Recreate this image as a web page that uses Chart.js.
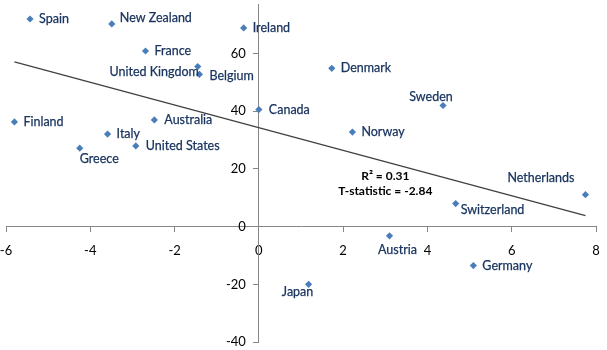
<!DOCTYPE html>
<html>
<head>
<meta charset="utf-8">
<script src="https://cdn.jsdelivr.net/npm/chart.js@4/dist/chart.umd.min.js"></script>
<style>
  html, body { margin: 0; padding: 0; background: #fff; }
  #chart { display: block; }
</style>
</head>
<body>
<canvas id="chart" width="607" height="350"></canvas>
<script>
// Countries with their x / y values
const countries = ['Spain', 'New Zealand', 'Ireland', 'France', 'United Kingdom', 'Belgium',
  'Canada', 'Finland', 'Australia', 'Italy', 'United States', 'Greece', 'Denmark', 'Sweden',
  'Norway', 'Netherlands', 'Switzerland', 'Austria', 'Germany', 'Japan'];
const xValues = [-5.43, -3.49, -0.36, -2.69, -1.45, -1.41, 0.0, -5.80, -2.48, -3.59, -2.92, -4.25,
  1.73, 4.37, 2.22, 7.75, 4.67, 3.10, 5.09, 1.18];
const yValues = [72.0, 70.3, 68.9, 60.9, 55.5, 52.8, 40.6, 36.3, 37.0, 32.1, 28.0, 27.2,
  54.9, 42.0, 32.8, 11.1, 8.0, -3.2, -13.5, -20.0];

// fitted line end points
const trendX = [-5.8, 7.75];
const trendY = [57.1, 3.8];

const xTicks = [-6, -4, -2, 0, 2, 4, 6, 8];
const yTicks = [-40, -20, 0, 20, 40, 60];

const statLines = ['R\u00B2 = 0.31', 'T-statistic = -2.84'];

// where each name sits next to its marker: [dx, dy, align]
const labelOffsets = [
  [9, 0, 'left'], [8, -6, 'left'], [9, 0, 'left'], [9, 0, 'left'], [1, 5, 'right'], [10, 2, 'left'],
  [10, 0, 'left'], [9, 0, 'left'], [10, 0, 'left'], [9, 0, 'left'], [10, 0, 'left'], [0, 11, 'left'],
  [9, 0, 'left'], [-12, -9, 'center'], [9, 0, 'left'], [-11, -17, 'right'], [5, 6, 'left'],
  [8, 14, 'center'], [9, 0, 'left'], [-11, 8, 'center']
];

const FONT = 'Lato, "Open Sans", sans-serif';

const pointLabels = {
  id: 'pointLabels',
  afterDatasetsDraw(chart) {
    const ctx = chart.ctx;
    const xs = chart.scales.x;
    const ys = chart.scales.y;
    const meta = chart.getDatasetMeta(1);
    ctx.save();

    // y tick labels, left of the crossing axis
    ctx.font = '13px ' + FONT;
    ctx.fillStyle = '#000';
    ctx.textAlign = 'right';
    ctx.textBaseline = 'middle';
    const axisX = xs.getPixelForValue(0);
    yTicks.forEach(function(v) {
      ctx.fillText(String(v), axisX - 13, ys.getPixelForValue(v));
    });

    // country names
    ctx.font = '12.5px ' + FONT;
    ctx.fillStyle = '#1b3560';
    ctx.strokeStyle = '#1b3560';
    ctx.lineWidth = 0.25;
    meta.data.forEach(function(pt, i) {
      const off = labelOffsets[i];
      ctx.textAlign = off[2];
      ctx.fillText(countries[i], pt.x + off[0], pt.y + off[1]);
      ctx.strokeText(countries[i], pt.x + off[0], pt.y + off[1]);
    });

    // regression stats
    const sx = xs.getPixelForValue(3.0);
    ctx.font = 'bold 12px ' + FONT;
    ctx.fillStyle = '#000';
    ctx.textAlign = 'center';
    ctx.fillText(statLines[0], sx, ys.getPixelForValue(17.6));
    ctx.fillText(statLines[1], sx, ys.getPixelForValue(12.4));
    ctx.restore();
  }
};

new Chart(document.getElementById('chart'), {
  type: 'scatter',
  data: {
    datasets: [
      {
        type: 'line',
        data: trendX.map(function(x, i) { return { x: x, y: trendY[i] }; }),
        borderColor: '#404040',
        borderWidth: 1.3,
        pointRadius: 0,
        fill: false
      },
      {
        data: xValues.map(function(x, i) { return { x: x, y: yValues[i] }; }),
        pointStyle: 'rectRot',
        pointRadius: 3.6,
        backgroundColor: '#4a7ebb',
        borderColor: '#4a7ebb',
        borderWidth: 0
      }
    ]
  },
  options: {
    responsive: false,
    animation: false,
    devicePixelRatio: 1,
    layout: { padding: { left: 6, right: 11, top: 0, bottom: 8 } },
    plugins: { legend: { display: false }, tooltip: { enabled: false } },
    scales: {
      x: {
        type: 'linear',
        position: { y: 0 },
        min: -6,
        max: 8,
        afterBuildTicks: function(scale) { scale.ticks = xTicks.map(function(v) { return { value: v }; }); },
        afterFit: function(scale) { scale.paddingLeft = 0; scale.paddingRight = 0; },
        ticks: { color: '#000', font: { family: FONT, size: 13 }, padding: 11, maxRotation: 0 },
        grid: { drawOnChartArea: false, tickLength: 5, color: '#868686' },
        border: { color: '#868686' }
      },
      y: {
        type: 'linear',
        position: { x: 0 },
        min: -40,
        max: 77.2,
        afterBuildTicks: function(scale) { scale.ticks = yTicks.map(function(v) { return { value: v }; }); },
        afterFit: function(scale) { scale.paddingTop = 0; scale.paddingBottom = 0; },
        ticks: { display: false },
        grid: { drawOnChartArea: false, tickLength: 5, color: '#868686' },
        border: { color: '#868686' }
      }
    }
  },
  plugins: [pointLabels]
});
</script>
</body>
</html>
